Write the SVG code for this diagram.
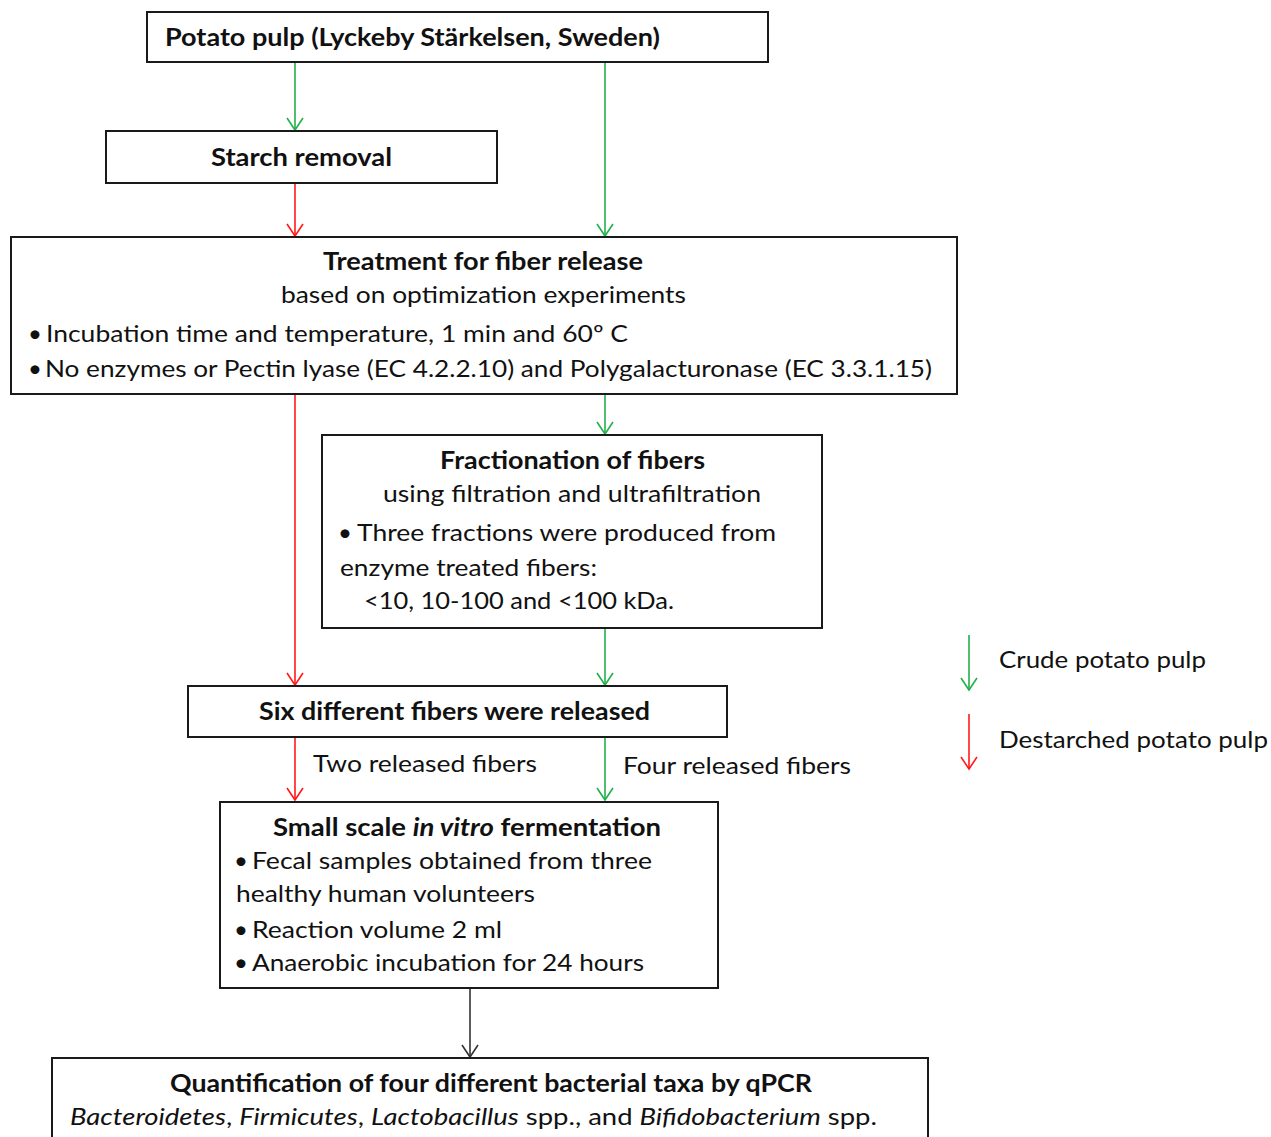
<svg xmlns="http://www.w3.org/2000/svg" width="1271" height="1137" viewBox="0 0 1271 1137">
<style>
.box{fill:#fff;stroke:#1a1a1a;stroke-width:2}
text{font-family:Lato,"Open Sans","Liberation Sans",sans-serif;font-size:24px;fill:#111}
.b{font-weight:bold}
.c{text-anchor:middle}
.g{stroke:#22b04b;stroke-width:1.6;fill:none}
.r{stroke:#ff1a1a;stroke-width:1.6;fill:none}
.k{stroke:#333;stroke-width:1.6;fill:none}
</style>
<defs>
<marker id="ag" markerWidth="20" markerHeight="20" refX="14" refY="10" orient="auto" markerUnits="userSpaceOnUse" viewBox="0 0 20 20"><path d="M2,2 L14,10 L2,18" fill="none" stroke="#22b04b" stroke-width="1.6"/></marker>
<marker id="ar" markerWidth="20" markerHeight="20" refX="14" refY="10" orient="auto" markerUnits="userSpaceOnUse" viewBox="0 0 20 20"><path d="M2,2 L14,10 L2,18" fill="none" stroke="#ff1a1a" stroke-width="1.6"/></marker>
<marker id="ak" markerWidth="20" markerHeight="20" refX="14" refY="10" orient="auto" markerUnits="userSpaceOnUse" viewBox="0 0 20 20"><path d="M2,2 L14,10 L2,18" fill="none" stroke="#333" stroke-width="1.6"/></marker>
</defs>
<rect width="1271" height="1137" fill="#fff"/>
<g id="connectors">
<path class="g" d="M295,63 V130" marker-end="url(#ag)"/>
<path class="g" d="M605,63 V236" marker-end="url(#ag)"/>
<path class="r" d="M295,184 V236" marker-end="url(#ar)"/>
<path class="r" d="M295,395 V685" marker-end="url(#ar)"/>
<path class="g" d="M605,395 V434" marker-end="url(#ag)"/>
<path class="g" d="M605,629 V685" marker-end="url(#ag)"/>
<path class="r" d="M295,738 V800" marker-end="url(#ar)"/>
<path class="g" d="M605,738 V800" marker-end="url(#ag)"/>
<path class="k" d="M470,989 V1057" marker-end="url(#ak)"/>
<text x="313" y="772" textLength="224" lengthAdjust="spacingAndGlyphs">Two released fibers</text>
<text x="623" y="774" textLength="228" lengthAdjust="spacingAndGlyphs">Four released fibers</text>
</g>
<g id="legend">
<path class="g" d="M969,635 V690" marker-end="url(#ag)"/>
<path class="r" d="M969,714 V769" marker-end="url(#ar)"/>
<text x="999" y="668" textLength="207" lengthAdjust="spacingAndGlyphs">Crude potato pulp</text>
<text x="999" y="748" textLength="269" lengthAdjust="spacingAndGlyphs">Destarched potato pulp</text>
</g>
<g id="n1">
<rect class="box" x="147" y="12" width="621" height="50"/>
<text class="b" x="165" y="46" textLength="495" lengthAdjust="spacingAndGlyphs">Potato pulp (Lyckeby Stärkelsen, Sweden)</text>
</g>
<g id="n2">
<rect class="box" x="106" y="131" width="391" height="52"/>
<text class="b" x="211" y="166" textLength="181" lengthAdjust="spacingAndGlyphs">Starch removal</text>
</g>
<g id="n3">
<rect class="box" x="11" y="237" width="946" height="157"/>
<text class="b" x="323" y="270" textLength="320" lengthAdjust="spacingAndGlyphs">Treatment for fiber release</text>
<text x="281" y="303" textLength="405" lengthAdjust="spacingAndGlyphs">based on optimization experiments</text>
<text x="28" y="342">•</text>
<text x="46" y="342" textLength="582" lengthAdjust="spacingAndGlyphs">Incubation time and temperature, 1 min and 60º C</text>
<text x="28" y="377">•</text>
<text x="45" y="377" textLength="887" lengthAdjust="spacingAndGlyphs">No enzymes or Pectin lyase (EC 4.2.2.10) and Polygalacturonase (EC 3.3.1.15)</text>
</g>
<g id="n4">
<rect class="box" x="322" y="435" width="500" height="193"/>
<text class="b" x="440" y="469" textLength="265" lengthAdjust="spacingAndGlyphs">Fractionation of fibers</text>
<text x="383" y="502" textLength="378" lengthAdjust="spacingAndGlyphs">using filtration and ultrafiltration</text>
<text x="338" y="541">•</text>
<text x="357" y="541" textLength="419" lengthAdjust="spacingAndGlyphs">Three fractions were produced from</text>
<text x="340" y="576" textLength="257" lengthAdjust="spacingAndGlyphs">enzyme treated fibers:</text>
<text x="364" y="609" textLength="310" lengthAdjust="spacingAndGlyphs">&lt;10, 10-100 and &lt;100 kDa.</text>
</g>
<g id="n5">
<rect class="box" x="188" y="686" width="539" height="51"/>
<text class="b" x="259" y="720" textLength="391" lengthAdjust="spacingAndGlyphs">Six different fibers were released</text>
</g>
<g id="n6">
<rect class="box" x="220" y="802" width="498" height="186"/>
<text class="b" x="273" y="836" textLength="388" lengthAdjust="spacingAndGlyphs">Small scale <tspan font-style="italic">in vitro</tspan> fermentation</text>
<text x="234" y="869">•</text>
<text x="252" y="869" textLength="400" lengthAdjust="spacingAndGlyphs">Fecal samples obtained from three</text>
<text x="236" y="902" textLength="299" lengthAdjust="spacingAndGlyphs">healthy human volunteers</text>
<text x="234" y="938">•</text>
<text x="252" y="938" textLength="250" lengthAdjust="spacingAndGlyphs">Reaction volume 2 ml</text>
<text x="234" y="971">•</text>
<text x="252" y="971" textLength="392" lengthAdjust="spacingAndGlyphs">Anaerobic incubation for 24 hours</text>
</g>
<g id="n7">
<rect class="box" x="52" y="1058" width="876" height="100"/>
<text class="b" x="170" y="1092" textLength="642" lengthAdjust="spacingAndGlyphs">Quantification of four different bacterial taxa by qPCR</text>
<text x="70" y="1125" textLength="807" lengthAdjust="spacingAndGlyphs"><tspan font-style="italic">Bacteroidetes</tspan>, <tspan font-style="italic">Firmicutes</tspan>, <tspan font-style="italic">Lactobacillus</tspan> spp., and <tspan font-style="italic">Bifidobacterium</tspan> spp.</text>
</g>
</svg>
